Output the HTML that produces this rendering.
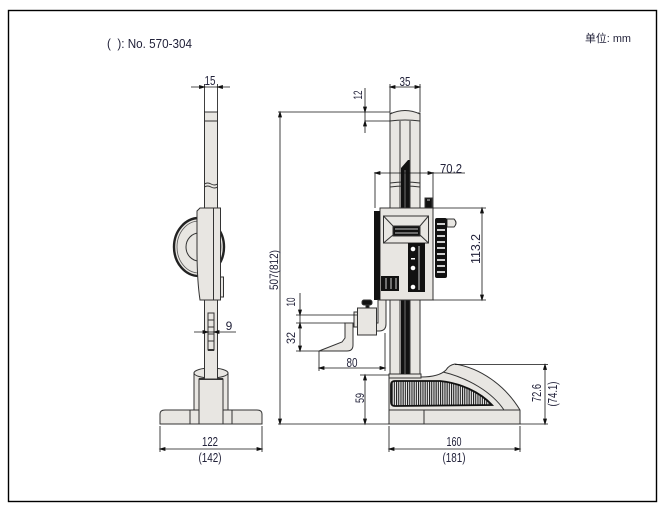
<!DOCTYPE html>
<html><head><meta charset="utf-8"><style>
html,body{margin:0;padding:0;background:#fff;}
svg{display:block;}
text{font-family:"Liberation Sans Narrow","Liberation Sans",sans-serif;fill:#22223a;}
</style></head><body>
<svg width="666" height="516" viewBox="0 0 666 516" xmlns="http://www.w3.org/2000/svg">
<defs>
<pattern id="hatch" width="2.2" height="10" patternUnits="userSpaceOnUse">
<rect width="2.2" height="10" fill="#f2f2f2"/>
<rect width="1.1" height="10" fill="#1a1a1a"/>
</pattern>
</defs>
<rect width="666" height="516" fill="#fff"/>
<rect x="8.5" y="10.5" width="648" height="491" fill="none" stroke="#000" stroke-width="1.4"/>

<text x="107" y="48" font-size="13" textLength="85" lengthAdjust="spacingAndGlyphs">(&#160;&#160;): No. 570-304</text>
<text x="585" y="42" font-size="11" textLength="46" lengthAdjust="spacingAndGlyphs" style="font-family:'Liberation Sans','Noto Sans CJK SC',sans-serif">单位: mm</text>

<!-- ============ SIDE VIEW ============ -->
<g stroke="#333" stroke-width="1" fill="#e8e6e2">
  <path d="M160 424 L160 414 Q160 410 165 410 L257 410 Q262 410 262 414 L262 424 Z"/>
  <line x1="190" y1="410" x2="190" y2="424"/>
  <line x1="232" y1="410" x2="232" y2="424"/>
  <path d="M194 373 L194 410 L228 410 L228 373 Z"/>
  <ellipse cx="211" cy="373" rx="17" ry="5"/>
  <rect x="199" y="379" width="24" height="45"/>
  <line x1="199" y1="379" x2="223" y2="379" stroke-width="2"/>
  <rect x="204.5" y="300" width="13" height="79"/>
  <rect x="208" y="313" width="6" height="37" fill="#e8e6e2"/>
  <line x1="208" y1="320" x2="214" y2="320"/>
  <line x1="208" y1="327" x2="214" y2="327"/>
  <line x1="208" y1="334" x2="214" y2="334"/>
  <line x1="208" y1="341" x2="214" y2="341"/>
  <line x1="208" y1="350" x2="214" y2="350" stroke-width="2"/>
  <rect x="204.5" y="112" width="13" height="98"/>
  <line x1="204.5" y1="121" x2="217.5" y2="121"/>
  <path d="M204.5 184 q3 -2 6.5 0 t6.5 0" fill="none"/>
  <path d="M204.5 187 q3 -2 6.5 0 t6.5 0" fill="none"/>
  <ellipse cx="199" cy="247" rx="25" ry="29" stroke="#222" stroke-width="2.4"/>
  <ellipse cx="199" cy="247" rx="22" ry="26" fill="none" stroke="#555" stroke-width="0.8"/>
  <path d="M199 233 A13 14 0 0 0 199 261" fill="none"/>
  <path d="M197 211 L200 208 L220 208 L220 300 L200 300 Q197 280 197 250 Z"/>
  <rect x="213.5" y="208" width="7" height="92"/>
  <rect x="220.5" y="277" width="3" height="20"/>
</g>

<g stroke="#111" stroke-width="0.8" fill="#111">
  <line x1="204.5" y1="84" x2="204.5" y2="112"/>
  <line x1="217.5" y1="84" x2="217.5" y2="112"/>
  <line x1="191" y1="87" x2="230" y2="87"/>
  <polygon points="204.5,87 199.5,85.5 199.5,88.5"/>
  <polygon points="217.5,87 222.5,85.5 222.5,88.5"/>
  <line x1="194" y1="332" x2="236" y2="332"/>
  <polygon points="208,332 203,330.5 203,333.5"/>
  <polygon points="214,332 219,330.5 219,333.5"/>
  <line x1="160" y1="426" x2="160" y2="452"/>
  <line x1="262" y1="426" x2="262" y2="452"/>
  <line x1="160" y1="449" x2="262" y2="449"/>
  <polygon points="160,449 165,447.5 165,450.5"/>
  <polygon points="262,449 257,447.5 257,450.5"/>
</g>
<text x="210" y="85" font-size="12.5" text-anchor="middle" textLength="11" lengthAdjust="spacingAndGlyphs">15</text>
<text x="229" y="330" font-size="12" text-anchor="middle">9</text>
<text x="210" y="446" font-size="12.5" text-anchor="middle" textLength="16" lengthAdjust="spacingAndGlyphs">122</text>
<text x="210" y="462" font-size="12.5" text-anchor="middle" textLength="23" lengthAdjust="spacingAndGlyphs">(142)</text>

<!-- ============ FRONT VIEW ============ -->
<g stroke="#333" stroke-width="1" fill="#e8e6e2">
  <path d="M389 424 L389 377 L421 377 C430 377 440 376 446 370 Q449 365 455 364 C480 368 505 385 520 410 L520 424 Z"/>
  <path d="M443 372 C468 378 492 392 504 410" fill="none"/>
  <line x1="389" y1="410" x2="520" y2="410"/>
  <line x1="424" y1="410" x2="424" y2="424"/>
  <path d="M395 381 L440 381 C460 383 480 392 492 405 L395 406 Q391 406 391 402 L391 385 Q391 381 395 381 Z" fill="url(#hatch)" stroke="#111" stroke-width="1.8"/>
  <rect x="390" y="113" width="30" height="262"/>
  <path d="M390 121 L390 114 Q405 107 420 114 L420 121 Q405 119 390 121 Z"/>
  <line x1="400" y1="121" x2="400" y2="375"/>
  <line x1="410" y1="121" x2="410" y2="375"/>
  <rect x="389" y="374" width="32" height="4"/>
  <path d="M390 183 Q405 181 420 183" fill="none"/>
  <path d="M390 187 Q405 185 420 187" fill="none"/>
</g>
<polygon points="401,168 408,160 409.5,160 409.5,374 401,374" fill="#111"/>
<line x1="405" y1="170" x2="405" y2="374" stroke="#888" stroke-width="0.8"/>

<g stroke="#333" stroke-width="1">
  <rect x="425" y="198" width="7" height="10" fill="#111"/>
  <rect x="380" y="208" width="53" height="92" fill="#e8e6e2"/>
  <rect x="374" y="211" width="6" height="89" fill="#111" stroke="none"/>
  <rect x="383.5" y="216" width="45" height="27" fill="#e8e6e2"/>
  <line x1="383.5" y1="216" x2="393" y2="226"/>
  <line x1="428.5" y1="216" x2="420" y2="226"/>
  <line x1="383.5" y1="243" x2="393" y2="235"/>
  <line x1="428.5" y1="243" x2="420" y2="235"/>
  <rect x="393" y="226" width="27" height="10" fill="#111"/>
  <rect x="408" y="243" width="17" height="49" fill="#111" stroke="none"/>
  <rect x="381" y="276" width="18" height="15" fill="#111" stroke="none"/>
  <path d="M447 219 L454 219 Q458 223 454 227 L447 227 Z" fill="#e8e6e2"/>
  <rect x="435" y="218" width="12" height="60" rx="2" fill="#111" stroke="none"/>
</g>
<g stroke="#fff" stroke-width="1.6">
  <line x1="437" y1="224" x2="445" y2="224"/>
  <line x1="437" y1="230" x2="445" y2="230"/>
  <line x1="437" y1="236" x2="445" y2="236"/>
  <line x1="437" y1="242" x2="445" y2="242"/>
  <line x1="437" y1="248" x2="445" y2="248"/>
  <line x1="437" y1="254" x2="445" y2="254"/>
  <line x1="437" y1="260" x2="445" y2="260"/>
  <line x1="437" y1="266" x2="445" y2="266"/>
  <line x1="437" y1="272" x2="445" y2="272"/>
</g>
<g stroke="#fff" stroke-width="0.8">
  <line x1="386" y1="278" x2="386" y2="289"/>
  <line x1="391" y1="278" x2="391" y2="289"/>
  <line x1="396" y1="278" x2="396" y2="289"/>
  <line x1="419" y1="246" x2="419" y2="290"/>
  <line x1="395" y1="229" x2="418" y2="229"/>
  <line x1="395" y1="233" x2="418" y2="233"/>
  <line x1="427" y1="200" x2="430" y2="200"/>
</g>
<g fill="#fff">
  <circle cx="413" cy="249" r="2.3"/>
  <circle cx="413" cy="268" r="2.3"/>
  <circle cx="413" cy="287" r="2.3"/>
  <rect x="411" y="258" width="4" height="1.5"/>
</g>

<g stroke="#333" stroke-width="1" fill="#e8e6e2">
  <path d="M378 300 L386 300 L386 324 Q386 331 379 331 L374 331 L374 323 L378 323 Z"/>
  <rect x="354" y="312" width="4" height="15"/>
  <rect x="357.5" y="308" width="19" height="27"/>
  <rect x="366" y="305" width="3" height="3" fill="#111"/>
  <rect x="362" y="300" width="10" height="5" rx="2" fill="#111"/>
  <path d="M345 323 L353 323 L353 345 Q353 351 347 351 L319 351 L342 342 L345 338 Z"/>
</g>

<g stroke="#111" stroke-width="0.8" fill="#111">
  <line x1="278" y1="112" x2="390" y2="112"/>
  <line x1="278" y1="424" x2="389" y2="424"/>
  <line x1="280" y1="112" x2="280" y2="424"/>
  <polygon points="280,112 278.5,117 281.5,117"/>
  <polygon points="280,424 278.5,419 281.5,419"/>
  <line x1="365" y1="121" x2="390" y2="121"/>
  <line x1="365" y1="88" x2="365" y2="133"/>
  <polygon points="365,112 363.5,107 366.5,107"/>
  <polygon points="365,121 363.5,126 366.5,126"/>
  <line x1="390" y1="84" x2="390" y2="112"/>
  <line x1="420" y1="84" x2="420" y2="112"/>
  <line x1="390" y1="87" x2="420" y2="87"/>
  <polygon points="390,87 395,85.5 395,88.5"/>
  <polygon points="420,87 415,85.5 415,88.5"/>
  <line x1="375" y1="172" x2="375" y2="208"/>
  <line x1="433" y1="172" x2="433" y2="208"/>
  <line x1="375" y1="173" x2="465" y2="173"/>
  <polygon points="375,173 380,171.5 380,174.5"/>
  <polygon points="433,173 428,171.5 428,174.5"/>
  <line x1="433" y1="208" x2="486" y2="208"/>
  <line x1="433" y1="300" x2="486" y2="300"/>
  <line x1="482" y1="208" x2="482" y2="300"/>
  <polygon points="482,208 480.5,213 483.5,213"/>
  <polygon points="482,300 480.5,295 483.5,295"/>
  <line x1="296" y1="315" x2="357" y2="315"/>
  <line x1="296" y1="323" x2="345" y2="323"/>
  <line x1="296" y1="351" x2="319" y2="351"/>
  <line x1="300" y1="293" x2="300" y2="351"/>
  <polygon points="300,315 298.5,310 301.5,310"/>
  <polygon points="300,323 298.5,328 301.5,328"/>
  <polygon points="300,351 298.5,346 301.5,346"/>
  <line x1="319" y1="351" x2="319" y2="371"/>
  <line x1="385" y1="333" x2="385" y2="371"/>
  <line x1="319" y1="368" x2="385" y2="368"/>
  <polygon points="319,368 324,366.5 324,369.5"/>
  <polygon points="385,368 380,366.5 380,369.5"/>
  <line x1="360" y1="375" x2="389" y2="375"/>
  <line x1="365" y1="375" x2="365" y2="424"/>
  <polygon points="365,375 363.5,380 366.5,380"/>
  <polygon points="365,424 363.5,419 366.5,419"/>
  <line x1="455" y1="364.5" x2="548" y2="364.5"/>
  <line x1="520" y1="424" x2="548" y2="424"/>
  <line x1="545" y1="364.5" x2="545" y2="424"/>
  <polygon points="545,364.5 543.5,369.5 546.5,369.5"/>
  <polygon points="545,424 543.5,419 546.5,419"/>
  <line x1="389" y1="426" x2="389" y2="452"/>
  <line x1="520" y1="426" x2="520" y2="452"/>
  <line x1="389" y1="449" x2="520" y2="449"/>
  <polygon points="389,449 394,447.5 394,450.5"/>
  <polygon points="520,449 515,447.5 515,450.5"/>
</g>

<text x="405" y="86" font-size="12.5" text-anchor="middle" textLength="11" lengthAdjust="spacingAndGlyphs">35</text>
<text x="451" y="173" font-size="12.5" text-anchor="middle" textLength="22" lengthAdjust="spacingAndGlyphs">70.2</text>
<text x="358" y="99" font-size="12" text-anchor="middle" textLength="9" lengthAdjust="spacingAndGlyphs" transform="rotate(-90 358 95)">12</text>
<text x="274" y="274" font-size="12" text-anchor="middle" textLength="40" lengthAdjust="spacingAndGlyphs" transform="rotate(-90 274 270)">507(812)</text>
<text x="476" y="253" font-size="12.5" text-anchor="middle" textLength="30" lengthAdjust="spacingAndGlyphs" transform="rotate(-90 476 249)">113.2</text>
<text x="291" y="306" font-size="12" text-anchor="middle" textLength="9" lengthAdjust="spacingAndGlyphs" transform="rotate(-90 291 302)">10</text>
<text x="291" y="342" font-size="12" text-anchor="middle" textLength="12" lengthAdjust="spacingAndGlyphs" transform="rotate(-90 291 338)">32</text>
<text x="352" y="367" font-size="12.5" text-anchor="middle" textLength="11" lengthAdjust="spacingAndGlyphs">80</text>
<text x="360" y="402" font-size="12" text-anchor="middle" textLength="10" lengthAdjust="spacingAndGlyphs" transform="rotate(-90 360 398)">59</text>
<text x="537" y="397" font-size="12.5" text-anchor="middle" textLength="18" lengthAdjust="spacingAndGlyphs" transform="rotate(-90 537 393)">72.6</text>
<text x="553" y="398" font-size="12.5" text-anchor="middle" textLength="25" lengthAdjust="spacingAndGlyphs" transform="rotate(-90 553 394)">(74.1)</text>
<text x="454" y="446" font-size="12.5" text-anchor="middle" textLength="15" lengthAdjust="spacingAndGlyphs">160</text>
<text x="454" y="462" font-size="12.5" text-anchor="middle" textLength="23" lengthAdjust="spacingAndGlyphs">(181)</text>
</svg>
</body></html>
